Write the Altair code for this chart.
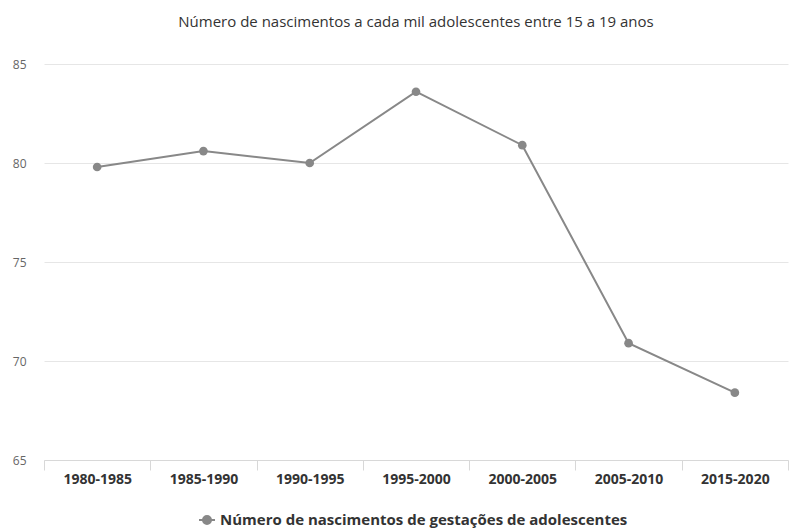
import altair as alt
import pandas as pd

periods = ["1980-1985", "1985-1990", "1990-1995", "1995-2000", "2000-2005", "2005-2010", "2015-2020"]
values = [79.8, 80.6, 80.0, 83.6, 80.9, 70.9, 68.4]
series_name = "Número de nascimentos de gestações de adolescentes"
chart_title = "Número de nascimentos a cada mil adolescentes entre 15 a 19 anos"
y_ticks = [65, 70, 75, 80, 85]

df = pd.DataFrame({"periodo": periods, "valor": values, "serie": [series_name] * len(periods)})

FONT = "Open Sans"
GRAY = "#888888"
line_symbol = "M-1,0L1,0M-0.5,0A0.5,0.5,0,1,1,0.5,0A0.5,0.5,0,1,1,-0.5,0Z"

chart = alt.Chart(df).mark_line(
    strokeWidth=2,
    point=alt.OverlayMarkDef(size=75, filled=True, opacity=1),
).encode(
    x=alt.X(
        "periodo:N",
        sort=periods,
        title=None,
        scale=alt.Scale(type="band", paddingInner=0, paddingOuter=0),
        axis=alt.Axis(
            labelAngle=0,
            labelFont=FONT,
            labelFontSize=14,
            labelFontWeight="bold",
            labelColor="#333333",
            labelPadding=2,
            tickBand="extent",
            tickSize=10,
            tickColor="#d8d8d8",
            domainColor="#d8d8d8",
            grid=False,
        ),
    ),
    y=alt.Y(
        "valor:Q",
        title=None,
        scale=alt.Scale(domain=[65, 85], nice=False, zero=False),
        axis=alt.Axis(
            values=y_ticks,
            labelFont=FONT,
            labelFontSize=12,
            labelColor="#666666",
            labelPadding=18,
            ticks=False,
            domain=False,
            grid=True,
            gridColor="#e6e6e6",
        ),
    ),
    color=alt.Color(
        "serie:N",
        scale=alt.Scale(range=[GRAY]),
        legend=alt.Legend(
            title=None,
            orient="none",
            legendX=154,
            legendY=447,
            direction="horizontal",
            labelFont=FONT,
            labelFontSize=15,
            labelFontWeight="bold",
            labelColor="#333333",
            labelLimit=600,
            symbolType=line_symbol,
            symbolSize=256,
            symbolStrokeWidth=2,
            symbolFillColor=GRAY,
            symbolStrokeColor=GRAY,
        ),
    ),
).properties(
    width=744,
    height=396,
    title=alt.TitleParams(
        text=chart_title,
        font=FONT,
        fontSize=15,
        fontWeight="normal",
        color="#333333",
        anchor="middle",
        baseline="bottom",
        offset=13,
    ),
    padding={"left": 4, "top": 7, "right": 0, "bottom": 0},
).configure_view(stroke=None)

chart.save("out.html", embed_options={"renderer": "svg", "actions": False})
